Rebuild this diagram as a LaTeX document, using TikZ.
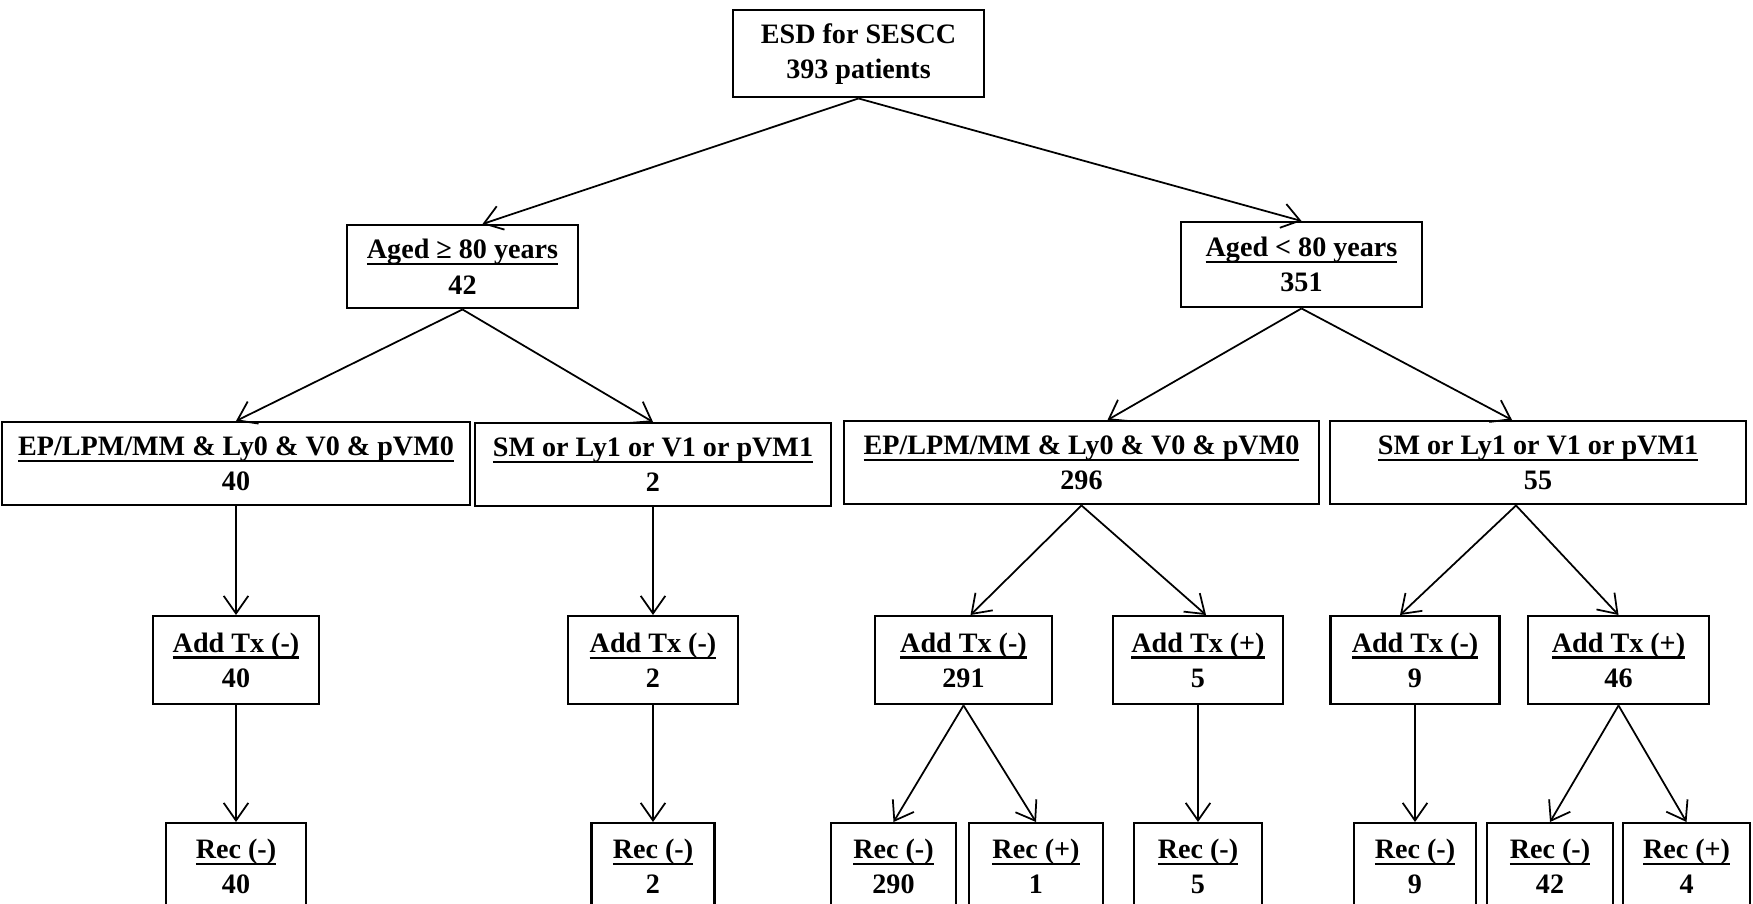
\documentclass[tikz,border=0pt]{standalone}
\usepackage{fontspec}
\setmainfont{Liberation Serif}
\usetikzlibrary{arrows.meta}

\tikzset{
  box/.style={draw, line width=0.7pt, anchor=north, align=center, inner sep=0pt,
    font=\bfseries\fontsize{8}{10}\selectfont},
  link/.style={line width=0.5pt, -{Straight Barb[length=5pt,width=7pt]}}
}
\newcommand{\uln}[1]{\setbox0=\hbox{#1}\rlap{\rule[-1.8pt]{\wd0}{0.6pt}}\box0}

\begin{document}
\begin{tikzpicture}
  % 1 px of the layout = 0.01cm, y runs downwards
  \clip (0,0) rectangle (17.53,-9.04);

  % Root
  \node[box, minimum width=2.51cm, minimum height=0.87cm] (root) at (8.585,-0.09)
    {ESD for SESCC\\393 patients};

  % Age split
  \node[box, minimum width=2.31cm, minimum height=0.83cm] (old) at (4.625,-2.24)
    {\uln{Aged ≥ 80 years}\\42};
  \node[box, minimum width=2.41cm, minimum height=0.85cm] (young) at (13.015,-2.21)
    {\uln{Aged < 80 years}\\351};

  % Pathology split
  \node[box, minimum width=4.68cm, minimum height=0.83cm] (oldep) at (2.36,-4.21)
    {\uln{EP/LPM/MM \& Ly0 \& V0 \& pVM0}\\40};
  \node[box, minimum width=3.56cm, minimum height=0.83cm] (oldsm) at (6.53,-4.22)
    {\uln{SM or Ly1 or V1 or pVM1}\\2};
  \node[box, minimum width=4.75cm, minimum height=0.83cm] (youngep) at (10.815,-4.20)
    {\uln{EP/LPM/MM \& Ly0 \& V0 \& pVM0}\\296};
  \node[box, minimum width=4.16cm, minimum height=0.83cm] (youngsm) at (15.38,-4.20)
    {\uln{SM or Ly1 or V1 or pVM1}\\55};

  % Additional treatment
  \foreach \nm/\x/\w/\s/\n in {tx1/2.36/1.66/-/40, tx2/6.53/1.70/-/2, tx3/9.635/1.77/-/291,
      tx4/11.98/1.70/+/5, tx5/14.15/1.69/-/9, tx6/16.185/1.81/+/46}{
    \node[box, minimum width=\w cm, minimum height=0.88cm] (\nm) at (\x,-6.15)
      {\uln{Add Tx (\s)}\\\n};
  }

  % Recurrence
  \foreach \nm/\x/\w/\s/\n in {rc1/2.36/1.40/-/40, rc2/6.53/1.23/-/2, rc3/8.935/1.25/-/290,
      rc4/10.36/1.34/+/1, rc5/11.98/1.28/-/5, rc6/14.15/1.22/-/9, rc7/15.50/1.26/-/42,
      rc8/16.865/1.27/+/4}{
    \node[box, minimum width=\w cm, minimum height=0.86cm] (\nm) at (\x,-8.22)
      {\uln{Rec (\s)}\\\n};
  }

  % Connectors
  \draw[link] (root.south) -- ([xshift=0.2cm]old.north);
  \draw[link] (root.south) -- (young.north);
  \draw[link] (old.south) -- (oldep.north);
  \draw[link] (old.south) -- (oldsm.north);
  \draw[link] (young.south) -- ([xshift=0.26cm]youngep.north);
  \draw[link] (young.south) -- ([xshift=-0.26cm]youngsm.north);
  \draw[link] (youngep.south) -- ([xshift=0.07cm]tx3.north);
  \draw[link] (youngep.south) -- ([xshift=0.08cm]tx4.north);
  \draw[link] ([xshift=-0.22cm]youngsm.south) -- ([xshift=-0.15cm]tx5.north);
  \draw[link] ([xshift=-0.22cm]youngsm.south) -- (tx6.north);
  \foreach \a/\b in {oldep/tx1, oldsm/tx2, tx1/rc1, tx2/rc2, tx3/rc3, tx3/rc4,
      tx4/rc5, tx5/rc6, tx6/rc7, tx6/rc8}{
    \draw[link] (\a.south) -- (\b.north);
  }
\end{tikzpicture}
\end{document}
